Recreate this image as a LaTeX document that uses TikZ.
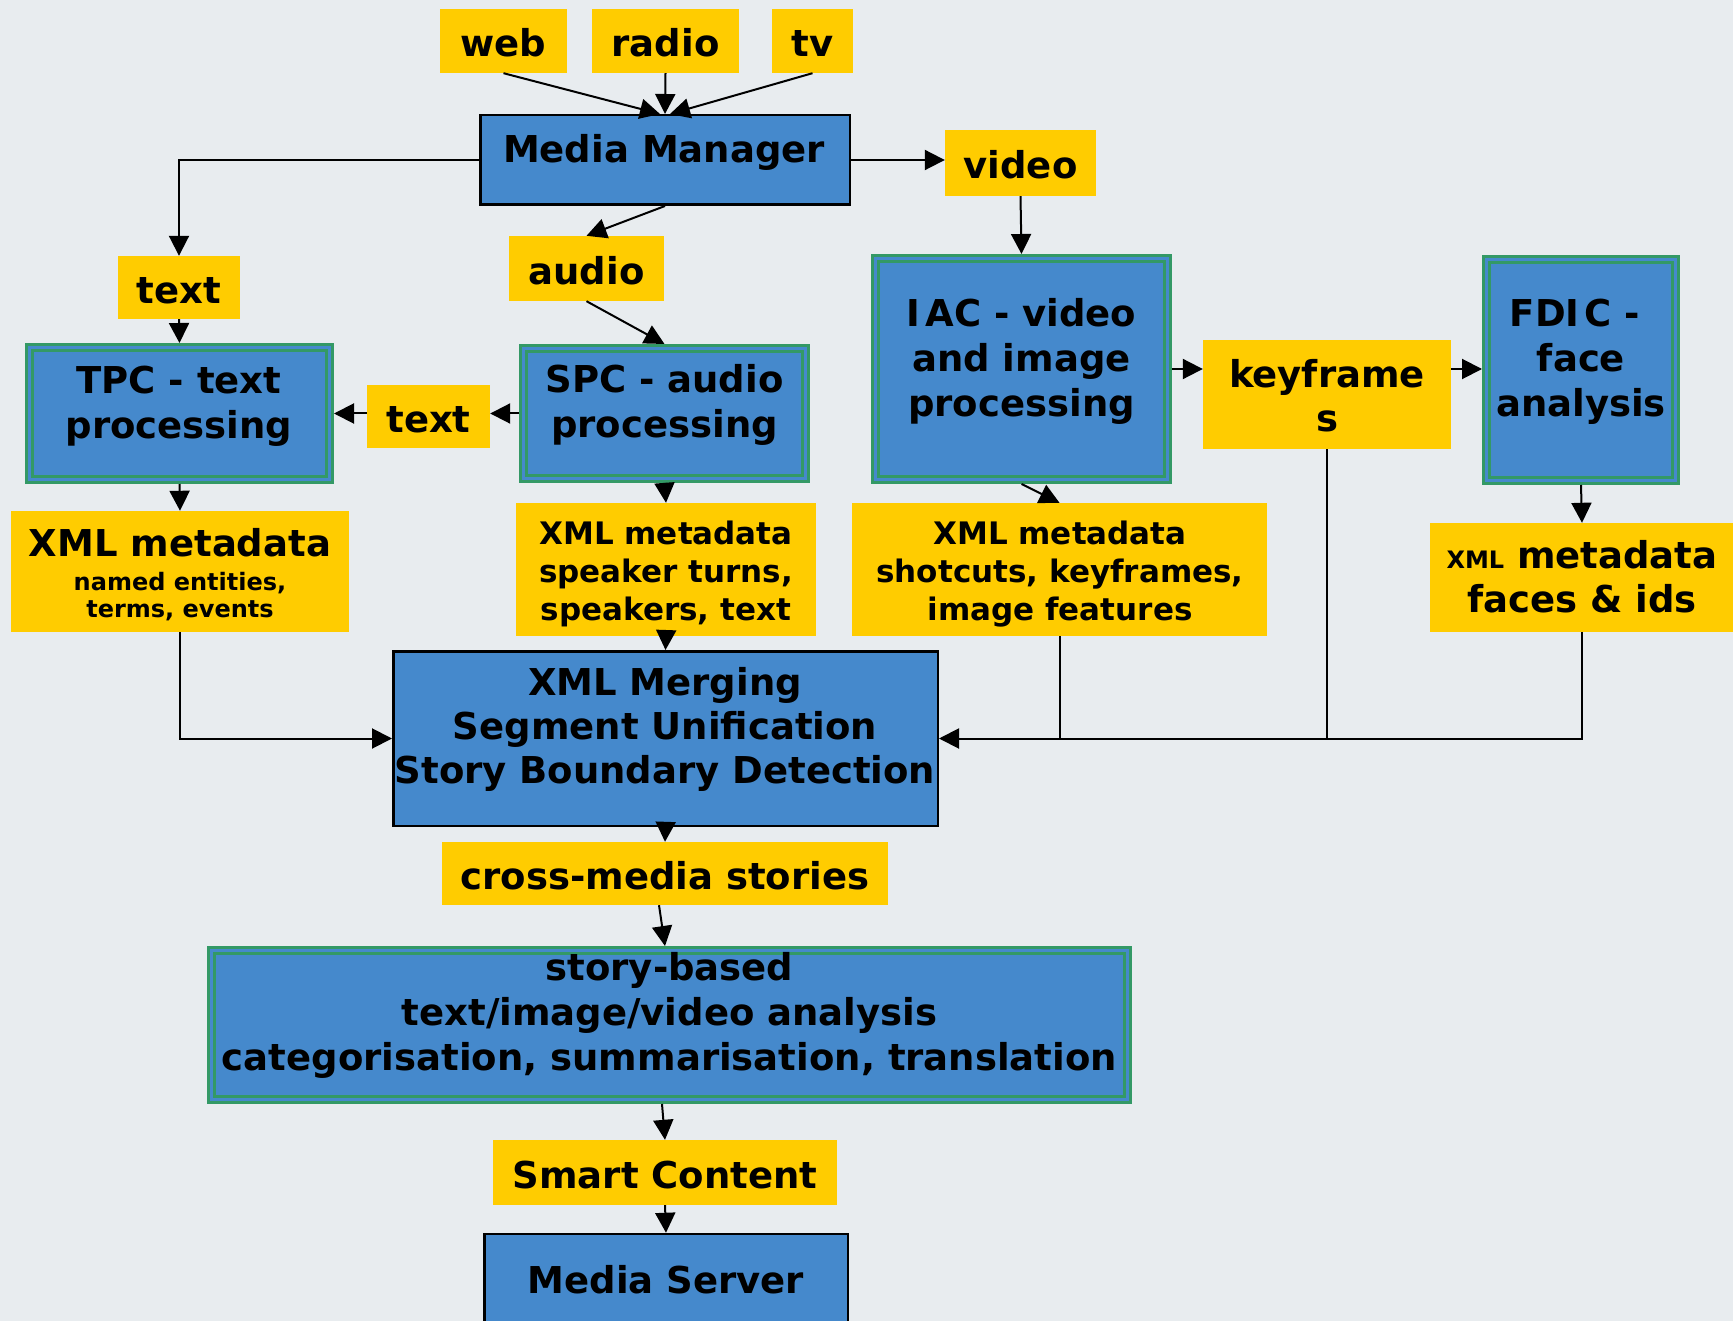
\documentclass[tikz,border=0pt]{standalone}
\usepackage{fontspec}
\setmainfont{DejaVu Sans}
\usetikzlibrary{arrows.meta}

\definecolor{bgcol}{HTML}{E8ECEF}
\definecolor{boxblue}{HTML}{4589CC}
\definecolor{framegreen}{HTML}{339966}
\definecolor{tagyellow}{HTML}{FFCC00}

\newcommand\txtbig{\bfseries\fontsize{37}{45}\selectfont}
\newcommand\txtmid{\bfseries\fontsize{31}{38}\selectfont}
\newcommand\txtsmall{\bfseries\fontsize{24}{27}\selectfont}

\tikzset{
  tagbox/.style={fill=tagyellow, inner sep=0pt},
  tagline/.style={tagbox, font=\txtbig, text height=32pt, text depth=0pt},
  plainbox/.style={fill=boxblue, draw=black, line width=2.5pt, inner sep=0pt},
  procbox/.style={fill=boxblue, draw=framegreen, double=boxblue,
    double distance=3pt, line width=3pt, outer sep=4.5pt, inner sep=0pt},
  boxtext/.style={font=\txtbig, align=center, inner sep=0pt},
  flow/.style={line width=2pt, -{Triangle[length=20pt,width=20pt]}},
  link/.style={line width=2pt},
}

\begin{document}
\begin{tikzpicture}[x=1pt, y=-1pt]
  \useasboundingbox (0,0) rectangle (1733,1321);
  \fill[bgcol] (0,0) rectangle (1733,1321);

  % sources
  \node[tagline, minimum width=127pt, minimum height=64pt] (web) at (503.5,41) {web};
  \node[tagline, minimum width=147pt, minimum height=64pt] (radio) at (665.5,41) {radio};
  \node[tagline, minimum width=81pt, minimum height=64pt] (tv) at (812.5,41) {tv};

  % media manager
  \node[plainbox, minimum width=369.5pt, minimum height=89.5pt] (mm) at (665,160) {};
  \node[boxtext] (mmtext) at (664,152) {Media Manager};

  \node[tagline, minimum width=151pt, minimum height=66pt] (video) at (1020.5,163) {video};
  \node[tagline, minimum width=122pt, minimum height=63pt] (texttop) at (179,287.5) {text};
  \node[tagline, minimum width=155pt, minimum height=65pt] (audio) at (586.5,268.5) {audio};

  % processing units
  \node[procbox, minimum width=300pt, minimum height=132pt] (tpc) at (179.5,413.5) {};
  \node[boxtext] (tpctext) at (179,406) {TPC - text\\processing};

  \node[procbox, minimum width=282pt, minimum height=130pt] (spc) at (664.5,413.5) {};
  \node[boxtext] (spctext) at (664.5,405) {SPC - audio\\processing};

  \node[tagline, minimum width=123pt, minimum height=63pt] (textmid) at (428.5,416.5) {text};

  \node[procbox, minimum width=292pt, minimum height=221pt] (iac) at (1021.5,369) {};
  \node[boxtext] (iactext) at (1021.5,361) {I\kern5pt AC - video\\and image\\processing};

  \node[tagbox, minimum width=248pt, minimum height=109pt] (kf) at (1327,394.5) {};
  \node[boxtext, font=\bfseries\fontsize{37}{44}\selectfont] (kftext) at (1327,396)
    {keyframe\\s};

  \node[procbox, minimum width=189pt, minimum height=221pt] (fdic) at (1581,370) {};
  \node[boxtext] (fdictext) at (1581,361.5) {FDI\kern5pt C -\kern12pt\\face\\analysis};

  % metadata outputs
  \node[tagbox, minimum width=338pt, minimum height=121pt] (xmlL) at (180,571.5) {};
  \node[boxtext, font=\txtsmall] (xmlLtext) at (180,575)
    {{\txtbig XML metadata}\\[7pt]named entities,\\terms, events};

  \node[tagbox, minimum width=300pt, minimum height=133pt] (xmlM) at (666,569.5) {};
  \node[boxtext, font=\txtmid] (xmlMtext) at (666,574)
    {XML metadata\\speaker turns,\\speakers, text};

  \node[tagbox, minimum width=415pt, minimum height=133pt] (xmlMR) at (1059.5,569.5) {};
  \node[boxtext, font=\txtmid] (xmlMRtext) at (1060,574)
    {XML metadata\\shotcuts, keyframes,\\image features};

  \node[tagbox, minimum width=304pt, minimum height=109pt] (xmlR) at (1582,577.5) {};
  \node[boxtext, font=\bfseries\fontsize{37}{44}\selectfont] (xmlRtext) at (1582,577)
    {{\txtsmall XML} metadata\\faces \& ids};

  % merging
  \node[plainbox, minimum width=544.5pt, minimum height=174.5pt] (merge) at (665.5,738.5) {};
  \node[boxtext, font=\bfseries\fontsize{37}{44}\selectfont] (mergetext) at (665,729)
    {XML Merging\\Segment Unification\\Story Boundary Detection};

  \node[tagline, minimum width=446pt, minimum height=63pt] (cross) at (665,873.5) {cross-media stories};

  \node[procbox, minimum width=916pt, minimum height=149pt] (story) at (669.5,1025) {};
  \node[boxtext] (storytext) at (669.5,1015)
    {story-based\\text/image/video analysis\\categorisation, summarisation, translation};

  \node[tagline, minimum width=344pt, minimum height=65pt] (smart) at (665,1172.5) {Smart Content};

  \node[plainbox, minimum width=363.5pt, minimum height=140pt] (server) at (666,1304) {};
  \node[boxtext] (servertext) at (666,1280) {Media Server};

  % connectors
  \draw[flow] (web.south) -- ([xshift=-5pt]mm.north);
  \draw[flow] (radio.south) -- (mm.north);
  \draw[flow] (tv.south) -- ([xshift=5pt]mm.north);

  \draw[flow] (mm.east) -- (mm.east -| video.west);
  \draw[flow] (mm.west) -| (texttop.north);
  \draw[flow] (mm.south) -- (audio.north);
  \draw[flow] (audio.south) -- (spc.north);
  \draw[flow] (texttop.south) -- (tpc.north);

  \draw[flow] (spc.west) -- (spc.west -| textmid.east);
  \draw[flow] (spc.west -| textmid.west) -- (spc.west -| tpc.east);

  \draw[flow] (tpc.south) -- (xmlL.north);
  \draw[flow] (spc.south) -- (xmlM.north);
  \draw[flow] (xmlM.south) -- (merge.north);
  \draw[flow] (xmlL.south) |- (merge.west);

  \draw[flow] (video.south) -- (iac.north);
  \draw[flow] (iac.east) -- (iac.east -| kf.west);
  \draw[flow] (iac.east -| kf.east) -- (iac.east -| fdic.west);
  \draw[flow] (fdic.south) -- (xmlR.north);
  \draw[flow] (iac.south) -- (xmlMR.north);

  \draw[flow] (xmlR.south) |- (merge.east);
  \draw[link] (xmlMR.south) -- (xmlMR.south |- merge.east);
  \draw[link] (kf.south) -- (kf.south |- merge.east);

  \draw[flow] (merge.south) -- (cross.north);
  \draw[flow] ([xshift=-6pt]cross.south) -- (cross.south |- story.north);
  \draw[flow] ([xshift=-3pt]smart.north |- story.south) -- (smart.north);
  \draw[flow] (smart.south) -- (server.north);
\end{tikzpicture}
\end{document}
